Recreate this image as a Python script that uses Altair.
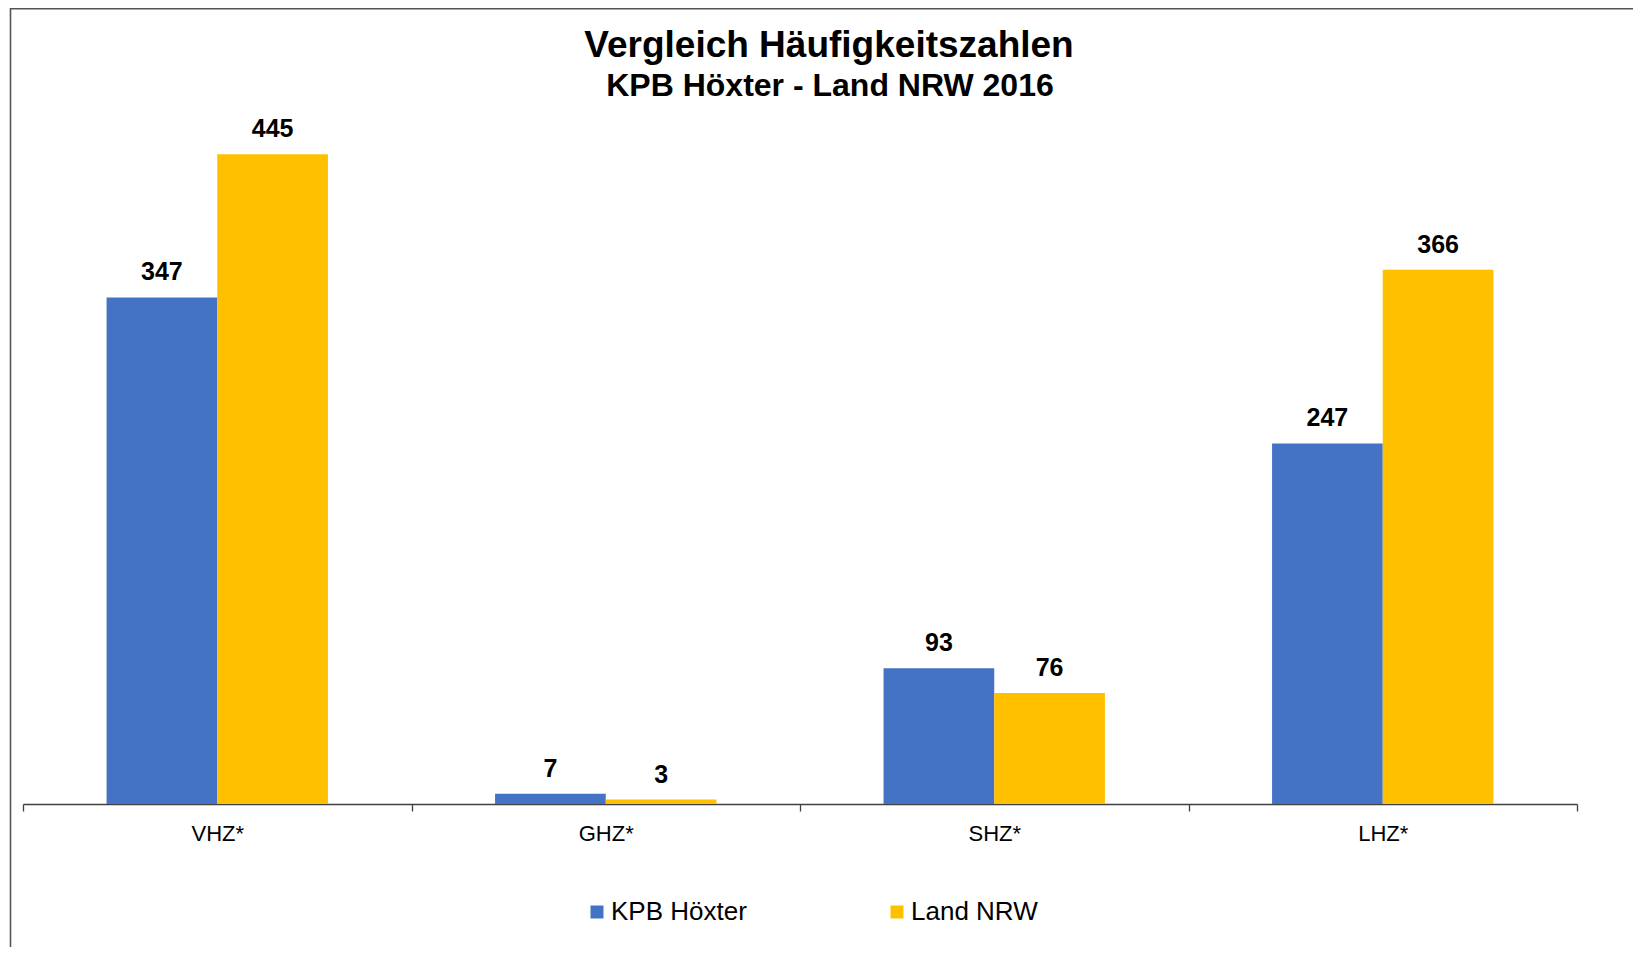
import altair as alt
import pandas as pd

categories = ["VHZ*", "GHZ*", "SHZ*", "LHZ*"]
kpb_hoexter = [347, 7, 93, 247]
land_nrw = [445, 3, 76, 366]
series_names = ["KPB Höxter", "Land NRW"]
colors = ["#4472C4", "#FFC000"]
title_text = "Vergleich Häufigkeitszahlen"
subtitle_text = "KPB Höxter - Land NRW 2016"

rows = []
for i, c in enumerate(categories):
    rows.append({"cat": c, "series": series_names[0], "value": kpb_hoexter[i]})
    rows.append({"cat": c, "series": series_names[1], "value": land_nrw[i]})
df = pd.DataFrame(rows)

W, H = 1554, 730
FONT = "Liberation Sans"

x_enc = alt.X(
    "cat:N",
    sort=categories,
    scale=alt.Scale(paddingInner=0, paddingOuter=0),
    axis=alt.Axis(
        title=None, labelAngle=0, labelFontSize=22, labelFont=FONT,
        labelColor="#000000", domainColor="#404040", domainWidth=1.3,
        ticks=True, tickSize=7, tickColor="#404040", tickWidth=1.3,
        tickBand="extent", labelPadding=12, grid=False,
    ),
)
xoff = alt.XOffset("series:N", sort=series_names,
                   scale=alt.Scale(paddingInner=0, paddingOuter=0.755))
y_enc = alt.Y("value:Q", scale=alt.Scale(domain=[0, 500], nice=False), axis=None)

base = alt.Chart(df)

bars = base.mark_bar().encode(
    x=x_enc,
    xOffset=xoff,
    y=y_enc,
    color=alt.Color(
        "series:N", sort=series_names,
        scale=alt.Scale(domain=series_names, range=colors),
        legend=alt.Legend(
            orient="none", legendX=561, legendY=825, direction="horizontal",
            title=None, symbolType="square", symbolSize=169, symbolStrokeWidth=0,
            labelFontSize=26, labelFont=FONT, labelColor="#000000", labelOffset=1,
            columnPadding=137, padding=0, labelLimit=400,
        ),
    ),
)

labels = base.mark_text(
    baseline="alphabetic", dy=-17, fontSize=25, fontWeight="bold", font=FONT, color="#000000"
).encode(
    x=x_enc,
    xOffset=xoff,
    y=y_enc,
    text=alt.Text("value:Q"),
)

one = pd.DataFrame({"k": [0]})
frame_left = alt.Chart(one).mark_rule(color="#555555", strokeWidth=1.6).encode(
    x=alt.value(-12.5), y=alt.value(-66), y2=alt.value(H + 150)
)
frame_top = alt.Chart(one).mark_rule(color="#555555", strokeWidth=1.6).encode(
    x=alt.value(-12.5), x2=alt.value(W + 70), y=alt.value(-65.2)
)
title_mark = alt.Chart(one).mark_text(
    text=title_text, font=FONT, fontSize=37, fontWeight="bold", color="#000000",
    align="center", baseline="alphabetic",
).encode(x=alt.value(806), y=alt.value(-17))
subtitle_mark = alt.Chart(one).mark_text(
    text=subtitle_text, font=FONT, fontSize=32, fontWeight="bold", color="#000000",
    align="center", baseline="alphabetic",
).encode(x=alt.value(807), y=alt.value(21.5))

chart = alt.layer(frame_left, frame_top, title_mark, subtitle_mark, bars, labels).properties(
    width=W,
    height=H,
    autosize=alt.AutoSizeParams(type="none"),
    padding={"left": 15, "top": 66, "right": 56, "bottom": 143},
    background="white",
).configure_view(stroke=None)

chart.save("out.html", embed_options={"renderer": "svg", "actions": False})
